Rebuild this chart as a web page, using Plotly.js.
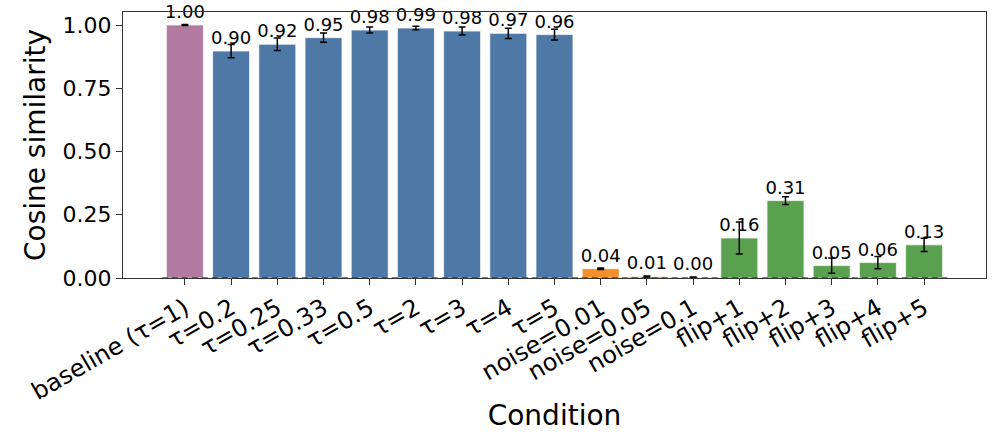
<!DOCTYPE html>
<html>
<head>
<meta charset="utf-8">
<script src="https://cdn.plot.ly/plotly-3.0.1.min.js"></script>
<style>html,body{margin:0;padding:0;background:#fff;}#chart{width:997px;height:440px;}</style>
</head>
<body>
<div id="chart"></div>
<script>
const categories = ["baseline (τ=1)", "τ=0.2", "τ=0.25", "τ=0.33", "τ=0.5", "τ=2", "τ=3", "τ=4", "τ=5",
  "noise=0.01", "noise=0.05", "noise=0.1", "flip+1", "flip+2", "flip+3", "flip+4", "flip+5"];
const values = [1.00, 0.897, 0.924, 0.950, 0.980, 0.988, 0.976, 0.967, 0.962,
  0.037, 0.006, 0.002, 0.158, 0.306, 0.049, 0.061, 0.131];
const errors = [0.002, 0.026, 0.025, 0.018, 0.012, 0.007, 0.016, 0.020, 0.021,
  0.003, 0.002, 0.002, 0.063, 0.015, 0.030, 0.024, 0.026];
const groups = ["baseline", "tau", "tau", "tau", "tau", "tau", "tau", "tau", "tau",
  "noise", "noise", "noise", "flip", "flip", "flip", "flip", "flip"];
const groupColors = {baseline: "#b07aa1", tau: "#4e79a7", noise: "#f28e2b", flip: "#59a14f"};
const yTicks = [0, 0.25, 0.5, 0.75, 1.0];

const xs = categories.map((_, i) => i);
const font = "DejaVu Sans, sans-serif";

const bars = {
  type: "bar",
  x: xs,
  y: values,
  width: 0.8,
  marker: {color: groups.map(g => groupColors[g]), line: {color: "rgba(255,255,255,0.7)", width: 1}},
  error_y: {type: "data", array: errors, visible: true, color: "#000", thickness: 1.5, width: 3.5},
  text: values.map(v => v.toFixed(2)),
  textposition: "outside",
  constraintext: "none",
  cliponaxis: false,
  textfont: {family: font, size: 18, color: "#000"},
  hoverinfo: "skip",
  showlegend: false
};

const zeroLine = {
  type: "scatter",
  mode: "lines",
  x: [xs[0] - 0.5, xs[xs.length - 1] + 0.5],
  y: [0, 0],
  line: {color: "#000", width: 1.2, dash: "6px,4px"},
  hoverinfo: "skip",
  showlegend: false
};

const layout = {
  width: 997,
  height: 440,
  margin: {l: 123, r: 11, t: 12, b: 162},
  paper_bgcolor: "#fff",
  plot_bgcolor: "#fff",
  font: {family: font, color: "#000"},
  showlegend: false,
  bargap: 0,
  xaxis: {
    range: [-1.34, 17.34],
    tickmode: "array",
    tickvals: xs,
    ticktext: categories,
    tickangle: -30,
    tickfont: {family: font, size: 24, color: "#000"},
    ticks: "outside",
    ticklen: 6,
    tickcolor: "#333",
    showgrid: false,
    zeroline: false,
    showline: true,
    linecolor: "#333",
    linewidth: 1,
    mirror: true,
    title: {text: "Condition", font: {family: font, size: 28, color: "#000"}, standoff: 0}
  },
  yaxis: {
    range: [0, 1.0514],
    tickmode: "array",
    tickvals: yTicks,
    ticktext: yTicks.map(v => v.toFixed(2)),
    tickfont: {family: font, size: 22, color: "#000"},
    ticks: "outside",
    ticklen: 6,
    tickcolor: "#333",
    showgrid: false,
    zeroline: false,
    showline: true,
    linecolor: "#333",
    linewidth: 1,
    mirror: true,
    title: {text: "Cosine similarity", font: {family: font, size: 28, color: "#000"}, standoff: 8}
  }
};

Plotly.newPlot("chart", [bars, zeroLine], layout, {displayModeBar: false, staticPlot: true});
</script>
</body>
</html>
